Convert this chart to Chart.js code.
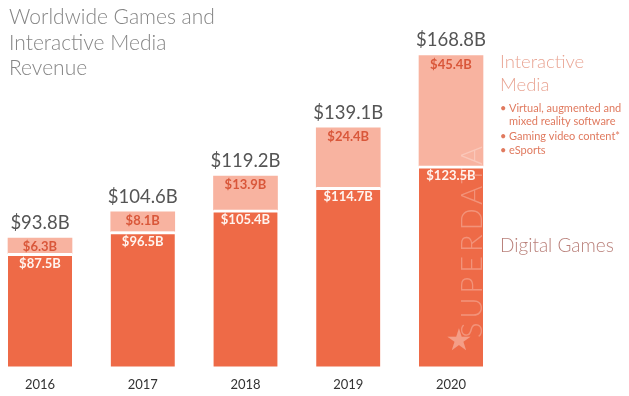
<!DOCTYPE html>
<html>
<head>
<meta charset="utf-8">
<script src="https://cdn.jsdelivr.net/npm/chart.js@4.4.1/dist/chart.umd.min.js"></script>
<style>
  html, body { margin: 0; padding: 0; background: #fff; }
  #wrap { width: 629px; height: 396px; position: relative; }
</style>
</head>
<body>
<div id="wrap"><canvas id="revenueChart" width="629" height="396"></canvas></div>
<script>
// dados do gráfico
const years = ['2016', '2017', '2018', '2019', '2020'];
const digitalGames = [87.5, 96.5, 105.4, 114.7, 123.5];
const interactiveMedia = [6.3, 8.1, 13.9, 24.4, 45.4];
const totals = [93.8, 104.6, 119.2, 139.1, 168.8];

const darkColor = '#EE6A47';
const lightColor = '#F8B3A0';

function money(v) { return '$' + v.toFixed(1) + 'B'; }

// rótulos, título e legenda desenhados à mão
const labelsPlugin = {
    id: 'labels',
    afterDatasetsDraw(chart) {
        const ctx = chart.ctx;
        const dark = chart.getDatasetMeta(0).data;
        const light = chart.getDatasetMeta(1).data;
        ctx.save();
        ctx.textAlign = 'center';
        ctx.textBaseline = 'middle';

        // marca d'água no último bar
        const last = dark[dark.length - 1];
        ctx.save();
        ctx.translate(last.x + 22, 240);
        ctx.rotate(-Math.PI / 2);
        ctx.fillStyle = 'rgba(255,255,255,0.28)';
        ctx.font = '300 29px Lato';
        ctx.letterSpacing = '4px';
        ctx.fillText('SUPERDATA', 0, 0);
        ctx.restore();
        ctx.fillStyle = 'rgba(255,255,255,0.35)';
        ctx.font = '30px "DejaVu Sans"';
        ctx.fillText('★', last.x + 8, 342);

        for (let i = 0; i < dark.length; i++) {
            ctx.font = 'bold 13px Lato';
            ctx.fillStyle = '#FFF3EE';
            ctx.fillText(money(digitalGames[i]), dark[i].x, dark[i].y + 10);
            ctx.fillStyle = '#D9573A';
            ctx.fillText(money(interactiveMedia[i]), light[i].x, light[i].y + 9);
            ctx.font = '18.5px Lato';
            ctx.fillStyle = '#555';
            ctx.fillText(money(totals[i]), light[i].x, light[i].y - 15);
        }

        ctx.textAlign = 'left';
        ctx.font = '300 21px Lato';
        ctx.fillStyle = '#858585';
        ctx.fillText('Worldwide Games and', 9, 17);
        ctx.fillText('Interactive Media', 9, 43);
        ctx.fillText('Revenue', 9, 68);

        ctx.font = '300 18.5px Lato';
        ctx.fillStyle = '#E9A594';
        ctx.fillText('Interactive', 500, 62);
        ctx.fillText('Media', 500, 85);
        ctx.font = '11px Lato';
        ctx.fillStyle = '#E07A5F';
        ctx.fillText('•', 500, 108);
        ctx.fillText('Virtual, augmented and', 509, 108);
        ctx.fillText('mixed reality software', 509, 121);
        ctx.fillText('•', 500, 136);
        ctx.fillText('Gaming video content*', 509, 136);
        ctx.fillText('•', 500, 150);
        ctx.fillText('eSports', 509, 150);

        ctx.font = '300 19px Lato';
        ctx.fillStyle = '#B9807A';
        ctx.fillText('Digital Games', 500, 246);
        ctx.restore();
    }
};

// as barras passam das bordas laterais, mas não do fundo
const barClip = { left: 40, right: 40, top: 40, bottom: 0 };

document.addEventListener('DOMContentLoaded', function () {
    const ctx = document.getElementById('revenueChart').getContext('2d');
    new Chart(ctx, {
        type: 'bar',
        data: {
            labels: years,
            datasets: [{
                label: 'Digital Games',
                data: digitalGames,
                backgroundColor: darkColor,
                borderColor: '#ffffff',
                borderWidth: { top: 3 },
                borderSkipped: false,
                barThickness: 64,
                clip: barClip
            }, {
                label: 'Interactive Media',
                data: interactiveMedia,
                backgroundColor: lightColor,
                borderWidth: 0,
                barThickness: 64,
                clip: barClip
            }]
        },
        options: {
            responsive: false,
            animation: false,
            layout: { padding: { left: 40, right: 178, top: 20, bottom: 0 } },
            plugins: {
                legend: { display: false },
                tooltip: { enabled: false }
            },
            scales: {
                x: {
                    stacked: true,
                    offset: false,
                    grid: { display: false },
                    border: { display: false },
                    ticks: { color: '#333', font: { family: 'Lato', size: 13 }, padding: 3 }
                },
                y: {
                    stacked: true,
                    display: false,
                    min: 41,
                    max: 183.5
                }
            }
        },
        plugins: [labelsPlugin]
    });
});
</script>
</body>
</html>
